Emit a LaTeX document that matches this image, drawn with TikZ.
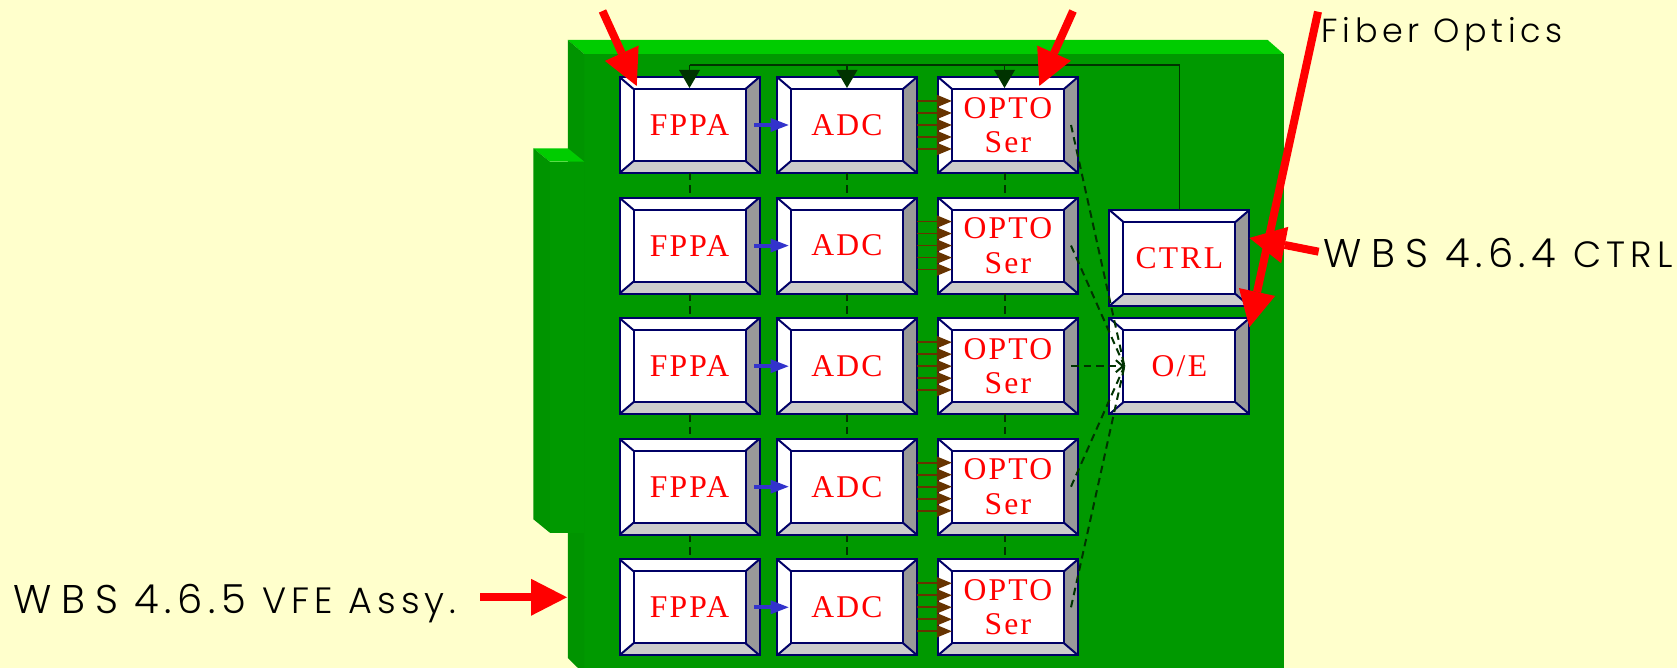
\documentclass[tikz,border=0pt]{standalone}
\usepackage{xcolor}
\usepackage{fontspec}
\usetikzlibrary{arrows.meta,calc}

\newfontfamily\boxfamily[LetterSpace=7]{Liberation Serif}
\newfontfamily\wbsfamily[LetterSpace=14,UprightFont=* Light]{Poppins}

\definecolor{paper}{HTML}{FFFFCC}
\definecolor{board}{HTML}{009900}
\definecolor{boardside}{HTML}{009400}
\definecolor{boardtop}{HTML}{00CC00}
\definecolor{bevelnavy}{HTML}{000066}
\definecolor{wire}{HTML}{003300}
\definecolor{serial}{HTML}{663300}
\definecolor{signal}{HTML}{3333CC}

\begin{document}
\begin{tikzpicture}[
        bevelbox/.style={draw=bevelnavy, line width=0.02cm, fill=white, outer sep=0pt, inner sep=0pt,
              minimum width=1.4cm, minimum height=0.96cm, align=center, text=red,
              font=\fontsize{9pt}{9.8pt}\boxfamily\selectfont,
              path picture={
                  \coordinate (nw) at ([shift={(0.14,-0.12)}]path picture bounding box.north west);
                  \coordinate (ne) at ([shift={(-0.14,-0.12)}]path picture bounding box.north east);
                  \coordinate (sw) at ([shift={(0.14,0.12)}]path picture bounding box.south west);
                  \coordinate (se) at ([shift={(-0.14,0.12)}]path picture bounding box.south east);
                  \fill[black!40] (path picture bounding box.north east) -- (ne) -- (se)
                      -- (path picture bounding box.south east) -- cycle;
                  \fill[black!20] (path picture bounding box.south west) -- (sw) -- (se)
                      -- (path picture bounding box.south east) -- cycle;
                  \draw[bevelnavy, line width=0.02cm] (nw) rectangle (se);
                  \draw[bevelnavy, line width=0.02cm] (path picture bounding box.north west) -- (nw)
                      (path picture bounding box.north east) -- (ne)
                      (path picture bounding box.south west) -- (sw)
                      (path picture bounding box.south east) -- (se);
              }},
        wbs/.style={anchor=base west, inner sep=0pt, text=black},
        redarrow/.style={red, line width=0.08cm, -{Triangle[length=0.36cm, width=0.37cm, line width=0pt]}},
        ctrlarrow/.style={wire, line width=0.016cm, -{Triangle[length=0.18cm, width=0.21cm, line width=0pt]}},
        chainline/.style={wire, line width=0.02cm, dash pattern=on 0.075cm off 0.05cm},
        fiberline/.style={chainline, -{Straight Barb[length=0.07cm, width=0.12cm]}},
        serialarrow/.style={serial, line width=0.018cm, shorten >=-0.138cm,
              -{Triangle[length=0.15cm, width=0.125cm, line width=0pt]}},
        signalarrow/.style={signal, line width=0.04cm, shorten <=-0.054cm, shorten >=-0.116cm,
              -{Triangle[length=0.18cm, width=0.14cm, line width=0pt]}},
    ]
    \useasboundingbox (0,0) rectangle (16.77,-6.68);
    \fill[paper] (0,0) rectangle (16.77,-6.68);

    % Main board
    \fill[board] (5.843,-0.54) rectangle (12.837,-6.68);
    \fill[boardtop] (5.678,-0.40) -- (12.677,-0.40) -- (12.837,-0.54) -- (5.843,-0.54) -- cycle;
    \fill[boardside] (5.678,-0.40) -- (5.843,-0.54) -- (5.843,-6.68) -- (5.78,-6.68) -- (5.678,-6.58) -- cycle;

    % Daughter board
    \fill[board] (5.498,-1.617) rectangle (5.843,-5.327);
    \fill[boardtop] (5.334,-1.483) -- (5.678,-1.483) -- (5.843,-1.617) -- (5.498,-1.617) -- cycle;
    \fill[boardside] (5.334,-1.483) -- (5.498,-1.617) -- (5.498,-5.327) -- (5.334,-5.193) -- cycle;

    % FPPA column
    \node[bevelbox] (f1) at (6.895,-1.25) {FPPA};
    \node[bevelbox] (f2) at (6.895,-2.456) {FPPA};
    \node[bevelbox] (f3) at (6.895,-3.662) {FPPA};
    \node[bevelbox] (f4) at (6.895,-4.867) {FPPA};
    \node[bevelbox] (f5) at (6.895,-6.073) {FPPA};

    % ADC column
    \node[bevelbox] (a1) at (8.47,-1.25) {ADC};
    \node[bevelbox] (a2) at (8.47,-2.456) {ADC};
    \node[bevelbox] (a3) at (8.47,-3.662) {ADC};
    \node[bevelbox] (a4) at (8.47,-4.867) {ADC};
    \node[bevelbox] (a5) at (8.47,-6.073) {ADC};

    % OPTO column
    \node[bevelbox] (o1) at (10.08,-1.25) {OPTO\\Ser};
    \node[bevelbox] (o2) at (10.08,-2.456) {OPTO\\Ser};
    \node[bevelbox] (o3) at (10.08,-3.662) {OPTO\\Ser};
    \node[bevelbox] (o4) at (10.08,-4.867) {OPTO\\Ser};
    \node[bevelbox] (o5) at (10.08,-6.073) {OPTO\\Ser};

    % Control and receiver
    \node[bevelbox] (ctrl) at (11.794,-2.58) {CTRL};
    \node[bevelbox] (oe) at (11.794,-3.662) {O/E};

    % Control bus
    \coordinate (busend) at (6.895,-0.65);
    \draw[wire, line width=0.016cm] (ctrl.north) |- (busend);
    \draw[ctrlarrow] (f1.north |- busend) -- ([yshift=-0.11cm]f1.north);
    \draw[ctrlarrow] (a1.north |- busend) -- ([yshift=-0.11cm]a1.north);
    \draw[ctrlarrow] ([xshift=-0.035cm]o1.north |- busend) -- ([shift={(-0.035,-0.11)}]o1.north);

    % Chain between rows
    \draw[chainline] (f1) -- (f2);
    \draw[chainline] (f2) -- (f3);
    \draw[chainline] (f3) -- (f4);
    \draw[chainline] (f4) -- (f5);
    \draw[chainline] (a1) -- (a2);
    \draw[chainline] (a2) -- (a3);
    \draw[chainline] (a3) -- (a4);
    \draw[chainline] (a4) -- (a5);
    \draw[chainline] ([xshift=-0.035cm]o1.south) -- ([xshift=-0.035cm]o2.north);
    \draw[chainline] ([xshift=-0.035cm]o2.south) -- ([xshift=-0.035cm]o3.north);
    \draw[chainline] ([xshift=-0.035cm]o3.south) -- ([xshift=-0.035cm]o4.north);
    \draw[chainline] ([xshift=-0.035cm]o4.south) -- ([xshift=-0.035cm]o5.north);

    % Signal arrows
    \draw[signalarrow] (f1) -- (a1);
    \draw[signalarrow] (f2) -- (a2);
    \draw[signalarrow] (f3) -- (a3);
    \draw[signalarrow] (f4) -- (a4);
    \draw[signalarrow] (f5) -- (a5);

    % Parallel lines
    \foreach \r in {1,...,5}
        \foreach \s in {-0.24,-0.12,0,0.12,0.24}
            \draw[serialarrow] ([yshift=\s cm]a\r.east) -- ([yshift=\s cm]o\r.west);

    % Fibers to the receiver
    \coordinate (oein) at ([xshift=0.15cm]oe.west);
    \draw[chainline] ([xshift=0.63cm]o1.center) -- (oein);
    \draw[chainline] ([xshift=0.63cm]o2.center) -- (oein);
    \draw[fiberline] ([xshift=0.63cm]o3.center) -- (oein);
    \draw[chainline] ([xshift=0.63cm]o4.center) -- (oein);
    \draw[chainline] ([xshift=0.63cm]o5.center) -- (oein);

    % Labels
    \node[wbs, font=\fontsize{9.5pt}{12pt}\wbsfamily\selectfont] (fiber) at (13.21,-0.43) {Fiber Optics};
    \node[wbs, font=\fontsize{11.4pt}{14pt}\wbsfamily\selectfont] (wbsctrl) at (13.23,-2.68)
          {W\kern2.8pt B\kern2.8pt S 4.6.4 {\fontsize{10.4pt}{12pt}\selectfont CTRL}};
    \node[wbs, font=\fontsize{11.4pt}{14pt}\wbsfamily\selectfont] (wbsvfe) at (0.125,-6.14)
          {W\kern2.8pt B\kern2.8pt S 4.6.5 {\fontsize{10.4pt}{12pt}\selectfont VFE Assy.}};

    % Red pointers
    \coordinate (tailf) at (6.025,-0.11);
    \coordinate (tailo) at (10.73,-0.11);
    \coordinate (tailfiber) at (13.18,-0.117);
    \coordinate (tailctrl) at (13.186,-2.517);
    \coordinate (tailvfe) at (4.80,-5.973);
    \coordinate (tipvfe) at (5.67,-5.973);
    \draw[redarrow] (tailf) -- ([shift={(0.172,-0.09)}]f1.north west);
    \draw[redarrow] (tailo) -- ([shift={(0.313,-0.09)}]o1.north);
    \draw[redarrow] (tailfiber) -- ([yshift=-0.09cm]oe.north east);
    \draw[redarrow] (tailctrl) -- ([yshift=0.2cm]ctrl.east);
    \draw[redarrow] (tailvfe) -- (tipvfe);
\end{tikzpicture}
\end{document}
